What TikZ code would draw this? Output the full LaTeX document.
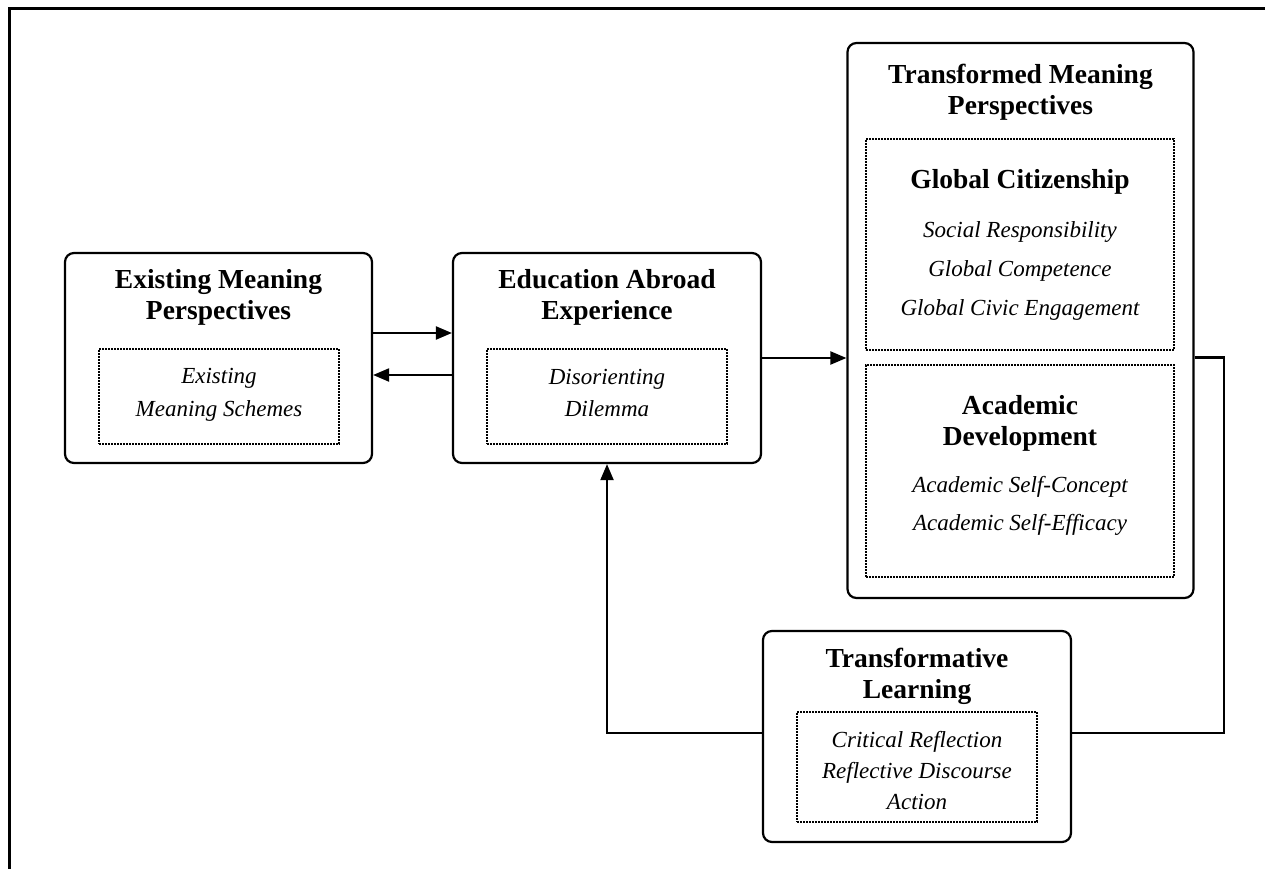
\documentclass[tikz,border=0pt]{standalone}
\usepackage{fontspec}
\setmainfont{Liberation Serif}
\usetikzlibrary{arrows.meta}
\tikzset{
  box/.style={draw, line width=2.2pt, rounded corners=9pt, inner sep=0pt},
  subbox/.style={draw, line width=1.6pt, dash pattern=on 1.6pt off 1.4pt, inner sep=0pt},
  title/.style={align=center, inner sep=0pt, font=\fontsize{27.5}{31}\selectfont\bfseries},
  items/.style={align=center, inner sep=0pt, font=\fontsize{23}{#1}\selectfont\itshape},
  link/.style={line width=2.1pt},
  arr/.style={link, -{Triangle[length=16pt,width=13pt]}}
}
\begin{document}
\begin{tikzpicture}[x=1pt,y=-1pt]
\useasboundingbox (0,0) rectangle (1265,869);
% page frame
\draw[line width=3pt] (1265,9) -- (9,9) -- (9,869);

% main boxes
\node[box, minimum width=307pt, minimum height=210pt] (exist) at (218.5,358) {};
\node[box, minimum width=308pt, minimum height=210pt] (abroad) at (607,358) {};
\node[box, minimum width=346pt, minimum height=555pt] (transf) at (1020.5,320.5) {};
\node[box, minimum width=308pt, minimum height=211pt] (learn) at (917,736.5) {};

% dotted inner boxes
\node[subbox, minimum width=240pt, minimum height=95pt] (schemes) at (219,396.5) {};
\node[subbox, minimum width=240pt, minimum height=95pt] (dilemma) at (607,396.5) {};
\node[subbox, minimum width=308pt, minimum height=211pt] (citizen) at (1020,244.5) {};
\node[subbox, minimum width=308pt, minimum height=212pt] (academic) at (1020,471) {};
\node[subbox, minimum width=240pt, minimum height=110pt] (process) at (917,767) {};

% titles
\node[title] (existT) at (218.5,297) {Existing Meaning\\Perspectives};
\node[title] (abroadT) at (607,297) {Education Abroad\\Experience};
\node[title] (transfT) at (1020.5,92.5) {Transformed Meaning\\Perspectives};
\node[title] (citizenT) at (1020,182) {Global Citizenship};
\node[title] (academicT) at (1020,423.5) {Academic\\Development};
\node[title] (learnT) at (917,676) {Transformative\\Learning};

% item lists
\node[items=33] (schemesL) at (219,394.5) {Existing\\Meaning Schemes};
\node[items=32] (dilemmaL) at (607,393) {Disorienting\\Dilemma};
\node[items=39] (citizenL) at (1020,271) {Social Responsibility\\Global Competence\\Global Civic Engagement};
\node[items=38] (academicL) at (1020,506) {Academic Self-Concept\\Academic Self-Efficacy};
\node[items=31] (processL) at (917,771) {Critical Reflection\\Reflective Discourse\\Action};

% connectors
\draw[arr] ([yshift=25pt]exist.east) -- ([yshift=25pt]abroad.west);
\draw[arr] ([yshift=-17pt]abroad.west) -- ([yshift=-17pt]exist.east);
\draw[arr] (abroad.east) -- (abroad.east -| transf.west);
\coordinate (loopR) at ([xshift=29pt,yshift=-37pt]transf.east);
\draw[link] ([yshift=-37pt]transf.east) -- (loopR) |- ([yshift=3.5pt]learn.east);
\draw[arr] ([yshift=3.5pt]learn.west) -| (abroad.south);
\end{tikzpicture}
\end{document}
